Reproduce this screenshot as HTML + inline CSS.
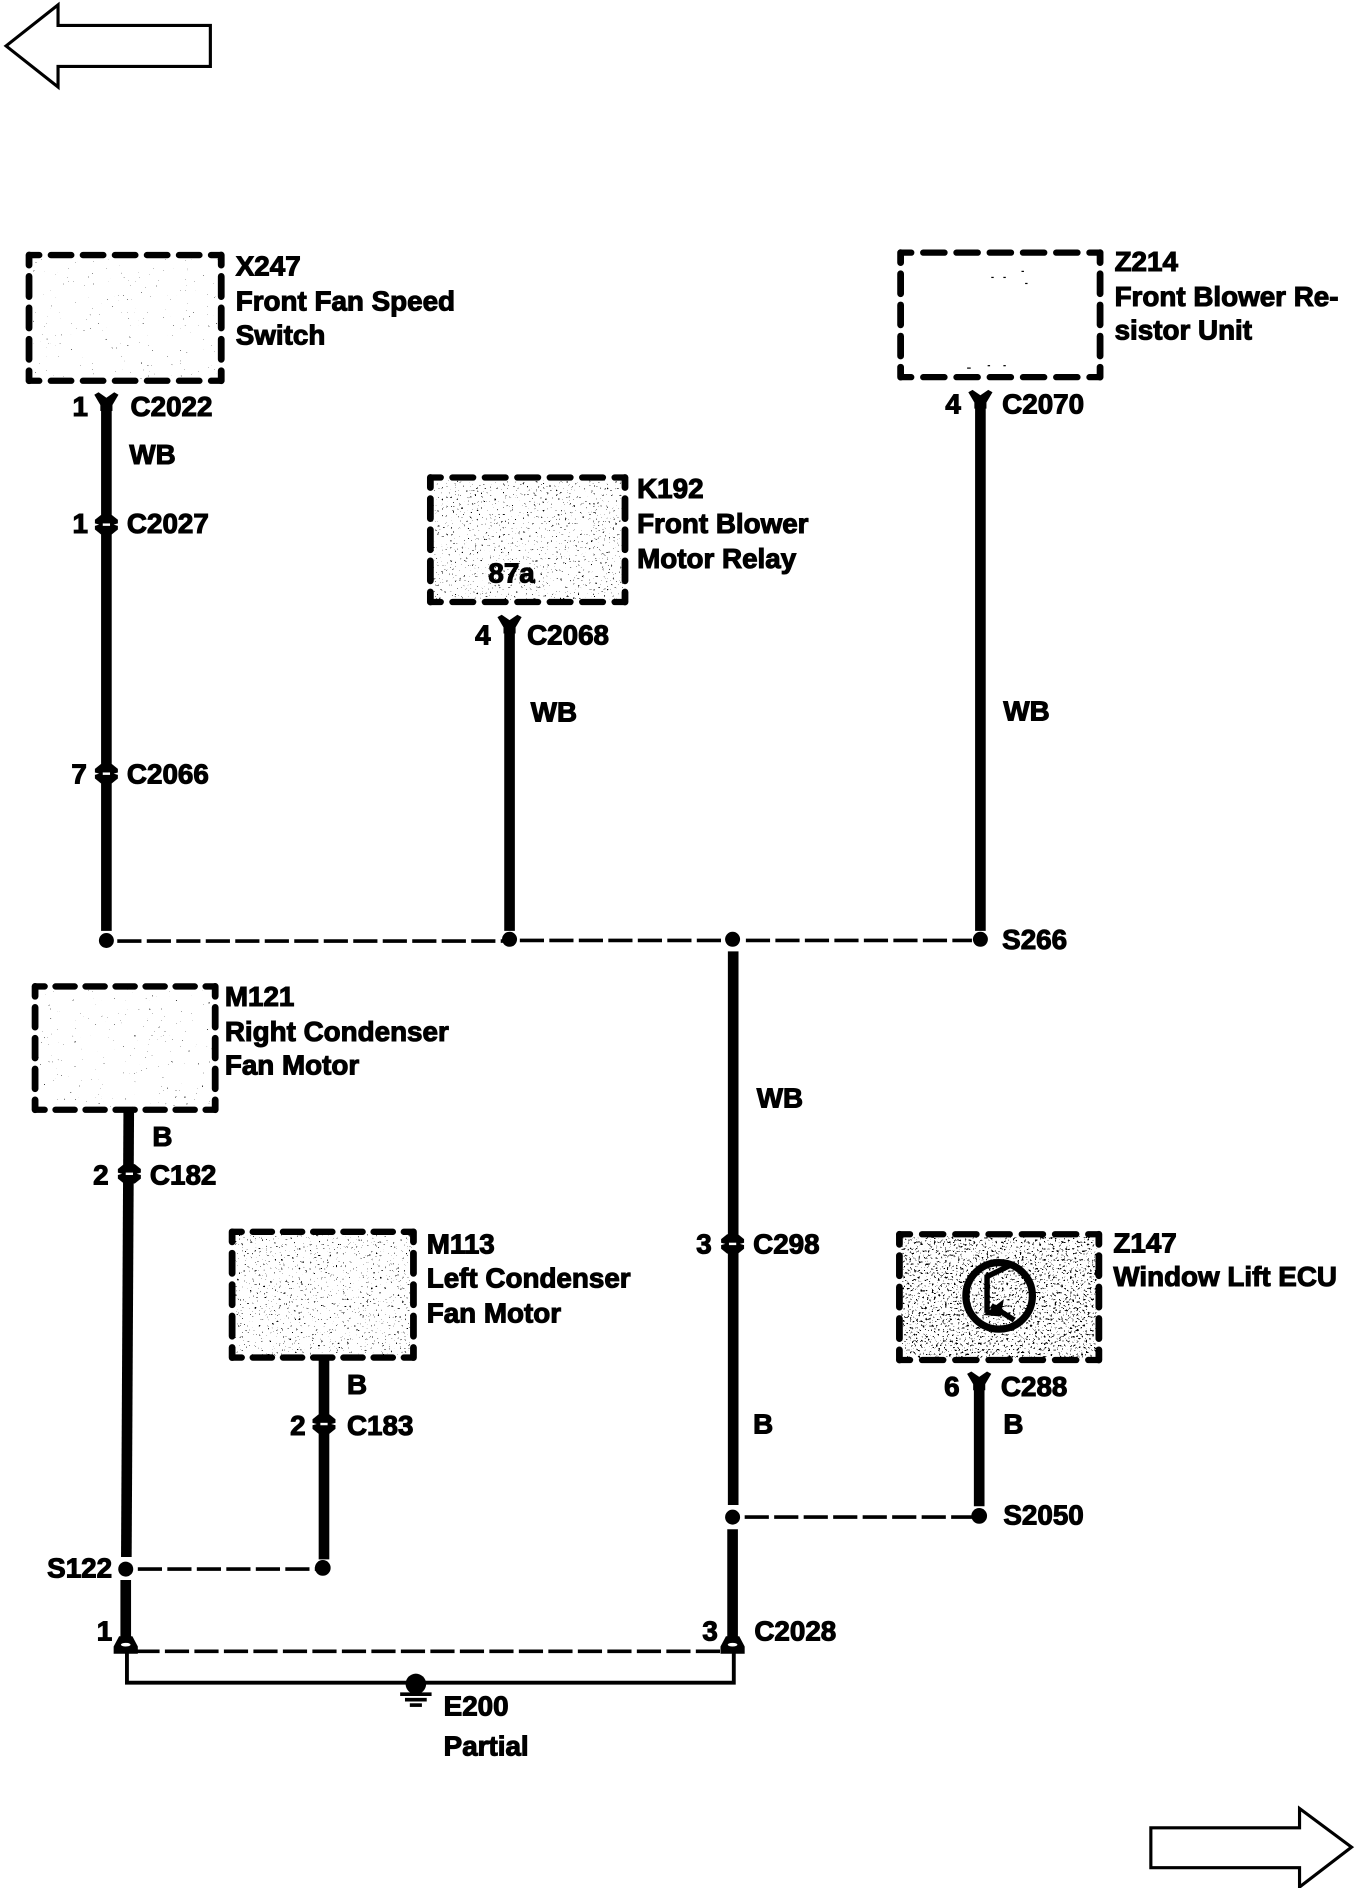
<!DOCTYPE html>
<html><head><meta charset="utf-8"><style>
html,body{margin:0;padding:0;background:#fff}
svg{display:block}
text{font-family:"Liberation Sans",sans-serif;font-weight:700;font-size:23px;fill:#000;stroke:#000;stroke-width:.9px}
.h{fill:none;stroke:#000;stroke-width:5.200;stroke-linecap:round;stroke-dasharray:.64 .36;stroke-dashoffset:.32}
.v{fill:none;stroke:#000;stroke-width:5.600;stroke-linecap:round;stroke-dasharray:.64 .36;stroke-dashoffset:.32}
</style></head><body>
<svg xmlns="http://www.w3.org/2000/svg" width="1360" height="1888" viewBox="0 0 1125 1561.8">
<defs>
<filter id="n1" x="0" y="0" width="1" height="1" color-interpolation-filters="sRGB"><feTurbulence type="fractalNoise" baseFrequency="0.55" numOctaves="2" seed="3"/><feColorMatrix values="0 0 0 0 0 0 0 0 0 0 0 0 0 0 0 40 0 0 0 -32"/></filter>
<filter id="n2" x="0" y="0" width="1" height="1" color-interpolation-filters="sRGB"><feTurbulence type="fractalNoise" baseFrequency="0.55" numOctaves="2" seed="8"/><feColorMatrix values="0 0 0 0 0 0 0 0 0 0 0 0 0 0 0 40 0 0 0 -28.500"/></filter>
<filter id="n3" x="0" y="0" width="1" height="1" color-interpolation-filters="sRGB"><feTurbulence type="fractalNoise" baseFrequency="0.55" numOctaves="2" seed="5"/><feColorMatrix values="0 0 0 0 0 0 0 0 0 0 0 0 0 0 0 40 0 0 0 -25.500"/></filter>
<g id="y"><path d="M-10 0.500L-6.500 -1.500L0 3L6.500 -1.500L10 0.500L5 9V14H-5V9Z"/></g>
<g id="m"><path d="M-4.500 -8L-9.500 -4V-1L-6 0L-9.500 1V4L-4.500 8H4.500L9.500 4V1L6 0L9.500 -1V-4L4.500 -8Z"/><rect x="-3" y="-1" width="6" height="2" fill="#fff"/></g>
<g id="b"><path d="M-5.500 -7.500L-10 1V7H10V1L5.500 -7.500Z"/><ellipse cy="-0.500" rx="4" ry="1.500" fill="#fff"/></g>
</defs>

<g fill="#fff" stroke="#000" stroke-width="2.600">
<polygon points="5,38 48,4 48,21 174,21 174,55 48,55 48,72"/>
<polygon points="952,1512 1075,1512 1075,1496 1118,1528 1075,1561 1075,1545 952,1545"/>
</g>

<!-- stipple -->
<rect x="26" y="213" width="156" height="100" filter="url(#n1)"/>
<g fill="#000"><rect x="820" y="229" width="2" height="1"/><rect x="830" y="229" width="2" height="1"/><rect x="845" y="224" width="2" height="1"/><rect x="848" y="234" width="2" height="1"/><rect x="800" y="304" width="3" height="1"/><rect x="817" y="302" width="2" height="1"/><rect x="830" y="302" width="2" height="1"/></g>
<rect x="358" y="397" width="157" height="99" filter="url(#n2)"/>
<rect x="31" y="818" width="145" height="98" filter="url(#n1)"/>
<rect x="194" y="1021" width="146" height="100" filter="url(#n2)"/>
<rect x="746" y="1023" width="161" height="100" filter="url(#n3)"/>

<!-- boxes -->
<path class="h" pathLength="12" d="M24 211H183M24 315H183"/><path class="v" pathLength="8" d="M24 211V315M183 211V315"/>
<path class="h" pathLength="12" d="M745 209H910M745 312H910"/><path class="v" pathLength="8" d="M745 209V312M910 209V312"/>
<path class="h" pathLength="12" d="M356 395H517M356 498H517"/><path class="v" pathLength="8" d="M356 395V498M517 395V498"/>
<path class="h" pathLength="12" d="M29 816H178M29 918H178"/><path class="v" pathLength="8" d="M29 816V918M178 816V918"/>
<path class="h" pathLength="12" d="M192 1019H342M192 1123H342"/><path class="v" pathLength="8" d="M192 1019V1123M342 1019V1123"/>
<path class="h" pathLength="12" d="M744 1021H909M744 1125H909"/><path class="v" pathLength="8" d="M744 1021V1125M909 1021V1125"/>

<!-- thick wires -->
<g stroke="#000" stroke-width="8.800" fill="none">
<path d="M88 335V770"/>
<path d="M421.500 519V770"/>
<path d="M811 332V770"/>
<path d="M606.500 787V1245"/>
<path d="M606 1265V1356"/>
<path d="M106.500 918L104.500 1288"/>
<path d="M104 1307V1356"/>
<path d="M268 1123V1290"/>
<path d="M810 1140V1246"/>
</g>

<!-- dashed & thin -->
<g fill="none" stroke="#000" stroke-width="3" stroke-dasharray="20 4.400">
<path d="M97 778.500H416"/>
<path d="M430 778H600"/>
<path d="M617 778H804"/>
<path d="M114 1298H262"/>
<path d="M616 1255H804"/>
<path d="M112 1366H600"/>
</g>
<path d="M105 1366V1392H607V1366" fill="none" stroke="#000" stroke-width="3.200"/>

<!-- dots -->
<g fill="#000">
<circle cx="88" cy="778" r="6.200"/><circle cx="421.500" cy="777" r="6.200"/><circle cx="606" cy="777" r="6.200"/><circle cx="811" cy="777" r="6.200"/>
<circle cx="104" cy="1298" r="6.200"/><circle cx="267" cy="1297" r="6.500"/><circle cx="606" cy="1255" r="6.200"/><circle cx="810" cy="1254" r="6.500"/>
</g>

<!-- connectors -->
<use href="#y" x="88" y="326"/>
<use href="#y" x="421.500" y="510"/>
<use href="#y" x="811" y="324"/>
<use href="#y" x="810" y="1136"/>
<use href="#m" x="88" y="434"/>
<use href="#m" x="88" y="640"/>
<use href="#m" x="107" y="971"/>
<use href="#m" x="268" y="1178"/>
<use href="#m" x="606" y="1029"/>
<use href="#b" x="104" y="1361"/>
<use href="#b" x="606" y="1361"/>

<!-- ground -->
<circle cx="344" cy="1393" r="8.500" fill="#000"/>
<g stroke="#000" stroke-width="3"><path d="M331 1401.500H357"/><path d="M335 1406H353"/><path d="M339 1410.500H349"/></g>

<!-- ECU symbol -->
<circle cx="826.500" cy="1072" r="27.500" fill="none" stroke="#000" stroke-width="6"/>
<g fill="none" stroke="#000" stroke-width="4.500"><path d="M835 1047L816.500 1056V1086"/><path d="M820 1080L839 1092"/></g>
<path d="M816 1087L829 1077L827 1088Z" fill="#000" stroke="#000" stroke-width="2"/>

<!-- labels -->
<text x="195" y="228">X247</text><text x="195" y="257">Front Fan Speed</text><text x="195" y="285">Switch</text>
<text x="60" y="344">1</text><text x="108" y="344">C2022</text><text x="107" y="384">WB</text>
<text x="60" y="441">1</text><text x="105" y="441">C2027</text>
<text x="59" y="648">7</text><text x="105" y="648">C2066</text>
<text x="527" y="412">K192</text><text x="527" y="441">Front Blower</text><text x="527" y="470">Motor Relay</text>
<text x="404" y="482">87a</text>
<text x="393" y="533">4</text><text x="436" y="533">C2068</text><text x="439" y="597">WB</text>
<text x="922" y="224">Z214</text><text x="922" y="253">Front Blower Re-</text><text x="922" y="281">sistor Unit</text>
<text x="782" y="342">4</text><text x="829" y="342">C2070</text><text x="830" y="596">WB</text>
<text x="829" y="785">S266</text>
<text x="186" y="832">M121</text><text x="186" y="861">Right Condenser</text><text x="186" y="889">Fan Motor</text>
<text x="126" y="948">B</text><text x="77" y="980">2</text><text x="124" y="980">C182</text>
<text x="353" y="1037">M113</text><text x="353" y="1065">Left Condenser</text><text x="353" y="1094">Fan Motor</text>
<text x="287" y="1153">B</text><text x="240" y="1187">2</text><text x="287" y="1187">C183</text>
<text x="39" y="1305">S122</text><text x="80" y="1357">1</text>
<text x="581" y="1357">3</text><text x="624" y="1357">C2028</text>
<text x="367" y="1419">E200</text><text x="367" y="1452">Partial</text>
<text x="626" y="916">WB</text><text x="576" y="1037">3</text><text x="623" y="1037">C298</text><text x="623" y="1186">B</text>
<text x="921" y="1036">Z147</text><text x="921" y="1064">Window Lift ECU</text>
<text x="781" y="1155">6</text><text x="828" y="1155">C288</text><text x="830" y="1186">B</text><text x="830" y="1261">S2050</text>
</svg>
</body></html>
